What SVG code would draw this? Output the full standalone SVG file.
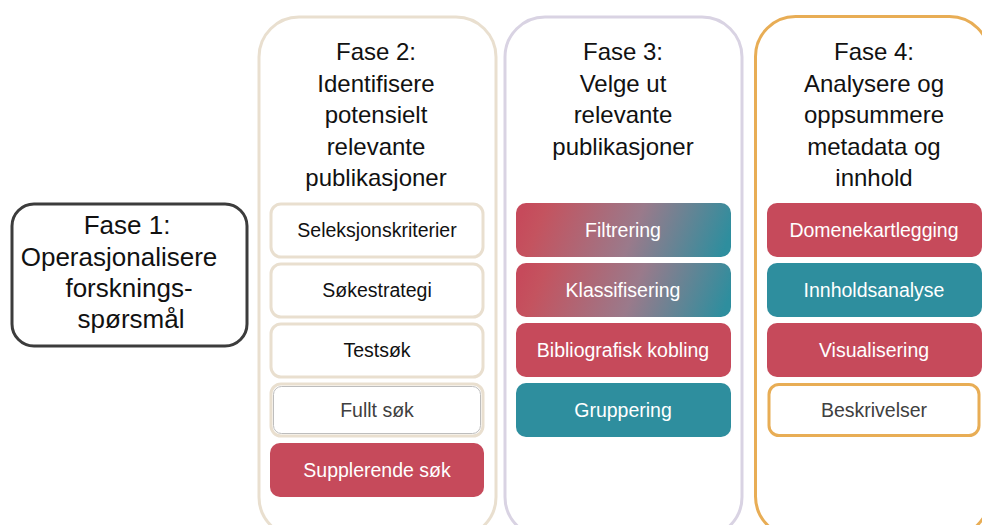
<svg xmlns="http://www.w3.org/2000/svg" width="982" height="525" viewBox="0 0 982 525">
  <defs>
    <linearGradient id="grad" x1="0" y1="0.45" x2="1" y2="0.55">
      <stop offset="0" stop-color="#C64A5B"/>
      <stop offset="0.1" stop-color="#C4535F"/>
      <stop offset="0.55" stop-color="#9A7A8B"/>
      <stop offset="1" stop-color="#2E8E9E"/>
    </linearGradient>
    <style>
      text { font-family: "Liberation Sans", Arial, sans-serif; text-anchor: middle; }
      .title { font-size: 24px; fill: #111; }
      .t1 { font-size: 26px; fill: #111; }
      .lbl { font-size: 19.5px; }
      .dark { fill: #111; }
      .gray { fill: #404040; }
      .white { fill: #ffffff; }
      .col { fill: #ffffff; stroke-width: 3; }
      .beigeBox { fill: #ffffff; stroke: #E9DFCF; stroke-width: 3; }
      .red { fill: #C64A5B; }
      .teal { fill: #2E8E9E; }
    </style>
  </defs>
  <rect width="982" height="525" fill="#ffffff"/>

  <g id="fase1">
    <rect x="12" y="204" width="235" height="142" rx="22" fill="#ffffff" stroke="#3C3C3C" stroke-width="3"/>
    <text class="t1" x="127" y="234">Fase 1:</text>
    <text class="t1" x="119" y="266">Operasjonalisere</text>
    <text class="t1" x="129" y="297">forsknings-</text>
    <text class="t1" x="131" y="328">spørsmål</text>
  </g>

  <g id="fase2">
    <rect class="col" x="259" y="17" width="237" height="520" rx="40" stroke="#E9DFCF"/>
    <text class="title" x="376" y="60">Fase 2:</text>
    <text class="title" x="376" y="91.5">Identifisere</text>
    <text class="title" x="376" y="123">potensielt</text>
    <text class="title" x="376" y="154.5">relevante</text>
    <text class="title" x="376" y="186">publikasjoner</text>
  </g>
  <g id="seleksjonskriterier">
    <rect class="beigeBox" x="271" y="204" width="212" height="53" rx="10"/>
    <text class="lbl dark" x="377" y="237">Seleksjonskriterier</text>
  </g>
  <g id="sokestrategi">
    <rect class="beigeBox" x="271" y="264" width="212" height="53" rx="10"/>
    <text class="lbl dark" x="377" y="297">Søkestrategi</text>
  </g>
  <g id="testsok">
    <rect class="beigeBox" x="271" y="324" width="212" height="53" rx="10"/>
    <text class="lbl dark" x="377" y="357">Testsøk</text>
  </g>
  <g id="fulltsok">
    <rect class="beigeBox" x="271" y="384" width="212" height="52" rx="10"/>
    <rect x="273.5" y="386.5" width="207" height="47" rx="8" fill="none" stroke="#BDBDBD" stroke-width="1"/>
    <text class="lbl gray" x="377" y="417">Fullt søk</text>
  </g>
  <g id="supplerendesok">
    <rect class="red" x="270" y="443" width="214" height="54" rx="10"/>
    <text class="lbl white" x="377" y="477">Supplerende søk</text>
  </g>

  <g id="fase3">
    <rect class="col" x="505" y="17" width="237" height="520" rx="40" stroke="#D9D3E3"/>
    <text class="title" x="623" y="60">Fase 3:</text>
    <text class="title" x="623" y="91.5">Velge ut</text>
    <text class="title" x="623" y="123">relevante</text>
    <text class="title" x="623" y="154.5">publikasjoner</text>
  </g>
  <g id="filtrering">
    <rect x="516" y="203" width="215" height="54" rx="10" fill="url(#grad)"/>
    <text class="lbl white" x="623" y="237">Filtrering</text>
  </g>
  <g id="klassifisering">
    <rect x="516" y="263" width="215" height="54" rx="10" fill="url(#grad)"/>
    <text class="lbl white" x="623" y="297">Klassifisering</text>
  </g>
  <g id="bibliografisk">
    <rect class="red" x="516" y="323" width="215" height="54" rx="10"/>
    <text class="lbl white" x="623" y="357">Bibliografisk kobling</text>
  </g>
  <g id="gruppering">
    <rect class="teal" x="516" y="383" width="215" height="54" rx="10"/>
    <text class="lbl white" x="623" y="417">Gruppering</text>
  </g>

  <g id="fase4">
    <rect class="col" x="755.5" y="16.5" width="234" height="520" rx="40" stroke="#E8AD55" stroke-width="3.5"/>
    <text class="title" x="874" y="60">Fase 4:</text>
    <text class="title" x="874" y="91.5">Analysere og</text>
    <text class="title" x="874" y="123">oppsummere</text>
    <text class="title" x="874" y="154.5">metadata og</text>
    <text class="title" x="874" y="186">innhold</text>
  </g>
  <g id="domenekartlegging">
    <rect class="red" x="767" y="203" width="215" height="54" rx="10"/>
    <text class="lbl white" x="874" y="237">Domenekartlegging</text>
  </g>
  <g id="innholdsanalyse">
    <rect class="teal" x="767" y="263" width="215" height="54" rx="10"/>
    <text class="lbl white" x="874" y="297">Innholdsanalyse</text>
  </g>
  <g id="visualisering">
    <rect class="red" x="767" y="323" width="215" height="54" rx="10"/>
    <text class="lbl white" x="874" y="357">Visualisering</text>
  </g>
  <g id="beskrivelser">
    <rect x="769" y="384.5" width="210" height="51" rx="10" fill="#ffffff" stroke="#E8AD55" stroke-width="3"/>
    <text class="lbl gray" x="874" y="417">Beskrivelser</text>
  </g>

  <g id="connectors"></g>
</svg>
